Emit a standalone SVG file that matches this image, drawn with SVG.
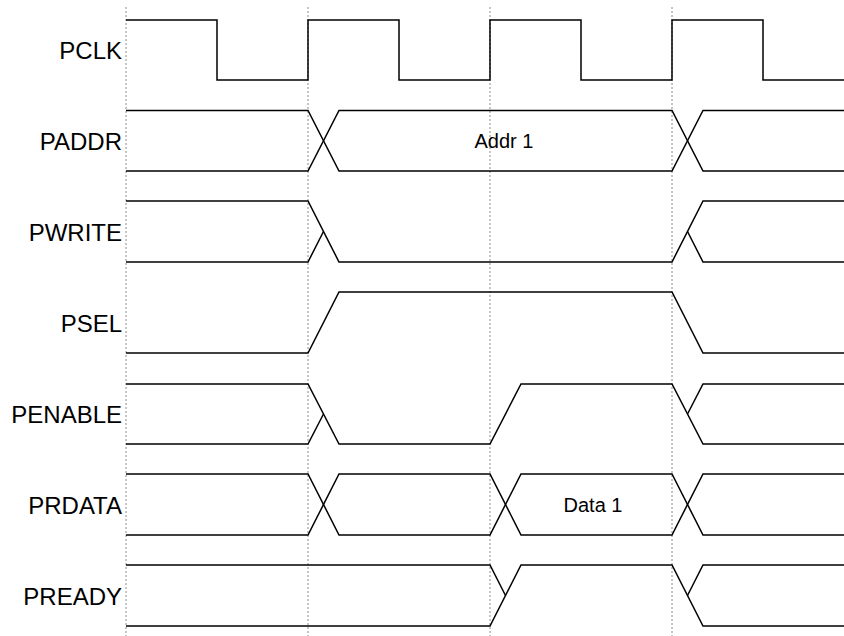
<svg xmlns="http://www.w3.org/2000/svg" width="844" height="636" viewBox="0 0 844 636">
<style>
.grid{stroke:#8a8a8a;stroke-width:1;stroke-dasharray:2 2;fill:none}
.w{stroke:#000;stroke-width:1.5;fill:none;stroke-linejoin:miter}
.lbl{font-family:"Liberation Sans",Arial,sans-serif;font-size:24px;fill:#000;text-anchor:end}
.val{font-family:"Liberation Sans",Arial,sans-serif;font-size:20px;fill:#000;text-anchor:middle}
</style>
<rect width="844" height="636" fill="#fff"/>
<g id="grid">
<line class="grid" x1="126" y1="7" x2="126" y2="636"/>
<line class="grid" x1="308" y1="7" x2="308" y2="636"/>
<line class="grid" x1="490" y1="7" x2="490" y2="636"/>
<line class="grid" x1="672" y1="7" x2="672" y2="636"/>
</g>
<g id="pclk">
<text class="lbl" x="122" y="59">PCLK</text>
<path class="w" d="M126,20 H217 V80 H308 V20 H399 V80 H490 V20 H581 V80 H672 V20 H763 V80 H844"/>
</g>
<g id="paddr">
<text class="lbl" x="122" y="149.5">PADDR</text>
<path class="w" d="M126,110.5 H308 L339,171 H672 L703,110.5 H844"/>
<path class="w" d="M126,171 H308 L339,110.5 H672 L703,171 H844"/>
<text class="val" x="504" y="148">Addr 1</text>
</g>
<g id="pwrite">
<text class="lbl" x="122" y="240.5">PWRITE</text>
<path class="w" d="M126,201 H308 L339,262 H672 L703,201 H844"/>
<path class="w" d="M126,262 H308 L323.5,231.5"/>
<path class="w" d="M687.5,231.5 L703,262 H844"/>
</g>
<g id="psel">
<text class="lbl" x="122" y="331.5">PSEL</text>
<path class="w" d="M126,353 H308 L339,292 H672 L703,353 H844"/>
</g>
<g id="penable">
<text class="lbl" x="122" y="422.5">PENABLE</text>
<path class="w" d="M126,384 H308 L339,444 H490 L521,384 H672 L703,444 H844"/>
<path class="w" d="M126,444 H308 L323.5,414"/>
<path class="w" d="M687.5,414 L703,384 H844"/>
</g>
<g id="prdata">
<text class="lbl" x="122" y="513.5">PRDATA</text>
<path class="w" d="M126,474 H308 L339,535 H490 L521,474 H672 L703,535 H844"/>
<path class="w" d="M126,535 H308 L339,474 H490 L521,535 H672 L703,474 H844"/>
<text class="val" x="593" y="512">Data 1</text>
</g>
<g id="pready">
<text class="lbl" x="122" y="604.5">PREADY</text>
<path class="w" d="M126,565 H490 L505.5,595.5"/>
<path class="w" d="M126,626 H490 L521,565 H672 L703,626 H844"/>
<path class="w" d="M687.5,595.5 L703,565 H844"/>
</g>
</svg>
